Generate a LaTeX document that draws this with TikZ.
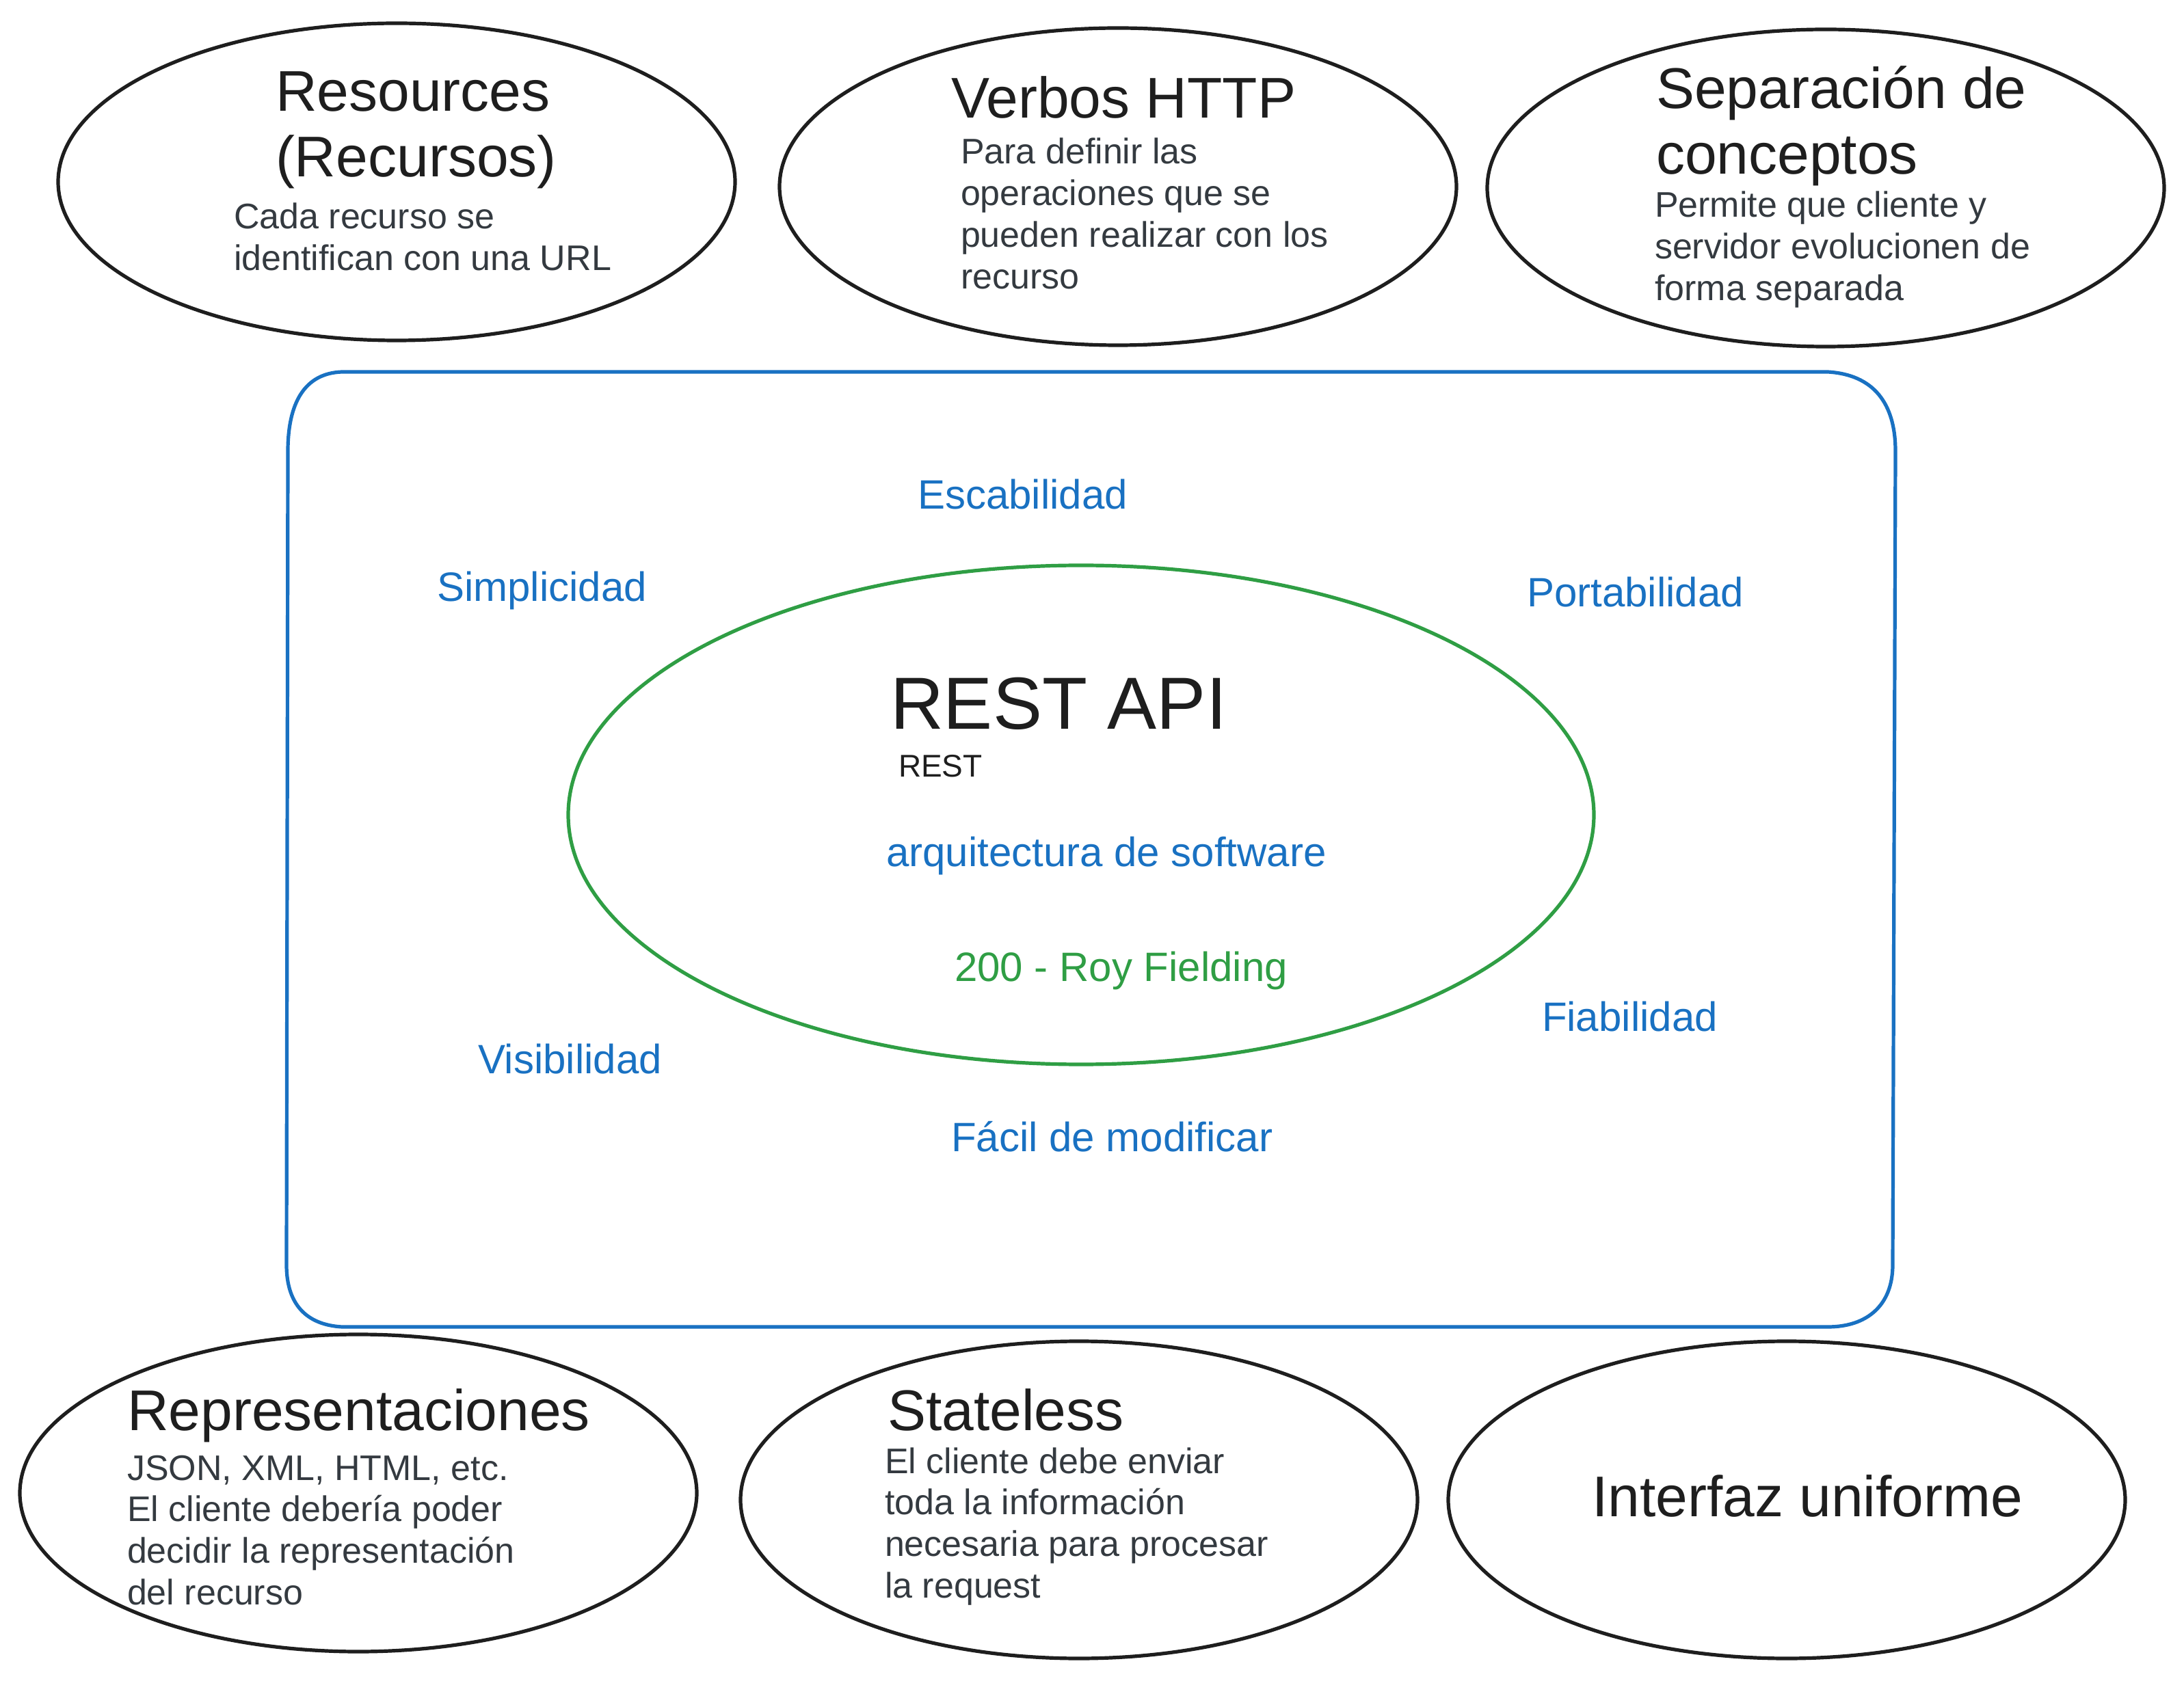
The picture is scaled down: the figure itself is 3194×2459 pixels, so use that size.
\documentclass[tikz,border=0pt]{standalone}
\usepackage{fontspec}
\setmainfont{Liberation Sans}
\usetikzlibrary{shapes.geometric}
\definecolor{exblue}{HTML}{1971C2}
\definecolor{exgreen}{HTML}{2F9E44}
\definecolor{exblack}{HTML}{1E1E1E}
\definecolor{exgray}{HTML}{343A40}
\tikzset{
  bubble/.style={draw=exblack, line width=1.3pt, ellipse, inner sep=0pt, minimum width=247.5pt, minimum height=116pt},
  core/.style={draw=exgreen, line width=1.3pt, ellipse, inner sep=0pt, minimum width=375pt, minimum height=182.5pt},
  txt/.style={anchor=base west, inner sep=0pt, outer sep=0pt},
  title/.style={txt, text=exblack, font=\fontsize{21}{24}\selectfont},
  desc/.style={txt, text=exgray, font=\fontsize{13}{15.2}\selectfont},
  quality/.style={txt, text=exblue, font=\fontsize{15}{18}\selectfont},
  frame/.style={draw=exblue, line width=1.3pt},
}
\begin{document}
\begin{tikzpicture}[x=0.25pt, y=-0.25pt]
\useasboundingbox[fill=white] (0,0) rectangle (3194,2459);

% outer hand-drawn frame
\draw[frame] (500,544) -- (2673,544)
  .. controls (2740,548) and (2772,590) .. (2772,660)
  -- (2768,1850)
  .. controls (2768,1910) and (2730,1941) .. (2673,1941)
  -- (500,1941)
  .. controls (450,1938) and (419,1910) .. (419,1850)
  -- (421,660)
  .. controls (421,590) and (445,546) .. (500,544) -- cycle;

% top ellipses
\node[bubble] (res) at (580,266) {};
\node[bubble] (verb) at (1635,273) {};
\node[bubble] (sep) at (2670,275) {};
% bottom ellipses
\node[bubble] (rep) at (524,2184) {};
\node[bubble] (stl) at (1578,2194) {};
\node[bubble] (uni) at (2613,2194) {};
% core ellipse
\node[core] (rest) at (1581,1192) {};

% texts in top ellipses
\node[title] (resT) at (403,163) {\vtop{\hbox{Resources}\hbox{(Recursos)}}};
\node[desc] (resD) at (342,335) {\vtop{\hbox{Cada recurso se}\hbox{identifican con una URL}}};

\node[title] (verbT) at (1391,173) {Verbos HTTP};
\node[desc] (verbD) at (1405,240) {\vtop{\hbox{Para definir las}\hbox{operaciones que se}\hbox{pueden realizar con los}\hbox{recurso}}};

\node[title] (sepT) at (2422,159) {\vtop{\hbox{Separación de}\hbox{conceptos}}};
\node[desc] (sepD) at (2420,318) {\vtop{\hbox{Permite que cliente y}\hbox{servidor evolucionen de}\hbox{forma separada}}};

% texts in bottom ellipses
\node[title] (repT) at (186,2092) {Representaciones};
\node[desc] (repD) at (186,2165) {\vtop{\hbox{JSON, XML, HTML, etc.}\hbox{El cliente debería poder}\hbox{decidir la representación}\hbox{del recurso}}};

\node[title] (stlT) at (1298,2092) {Stateless};
\node[desc] (stlD) at (1294,2155) {\vtop{\hbox{El cliente debe enviar}\hbox{toda la información}\hbox{necesaria para procesar}\hbox{la request}}};

\node[title] (uniT) at (2328,2218) {Interfaz uniforme};

% core texts
\node[txt, text=exblack, font=\fontsize{27}{30}\selectfont] (restT) at (1302,1067) {REST API};
\node[txt, text=exblack, font=\fontsize{11.5}{14}\selectfont] (restS) at (1314,1137) {REST};
\node[quality] (arq) at (1296,1267) {arquitectura de software};
\node[txt, text=exgreen, font=\fontsize{15}{18}\selectfont] (roy) at (1396,1436) {200 - Roy Fielding};

% qualities
\node[quality] (esc) at (1342,745) {Escabilidad};
\node[quality] (sim) at (639,880) {Simplicidad};
\node[quality] (por) at (2233,888) {Portabilidad};
\node[quality] (vis) at (699,1570) {Visibilidad};
\node[quality] (fia) at (2255,1509) {Fiabilidad};
\node[quality] (fac) at (1391,1684) {Fácil de modificar};
\end{tikzpicture}
\end{document}
